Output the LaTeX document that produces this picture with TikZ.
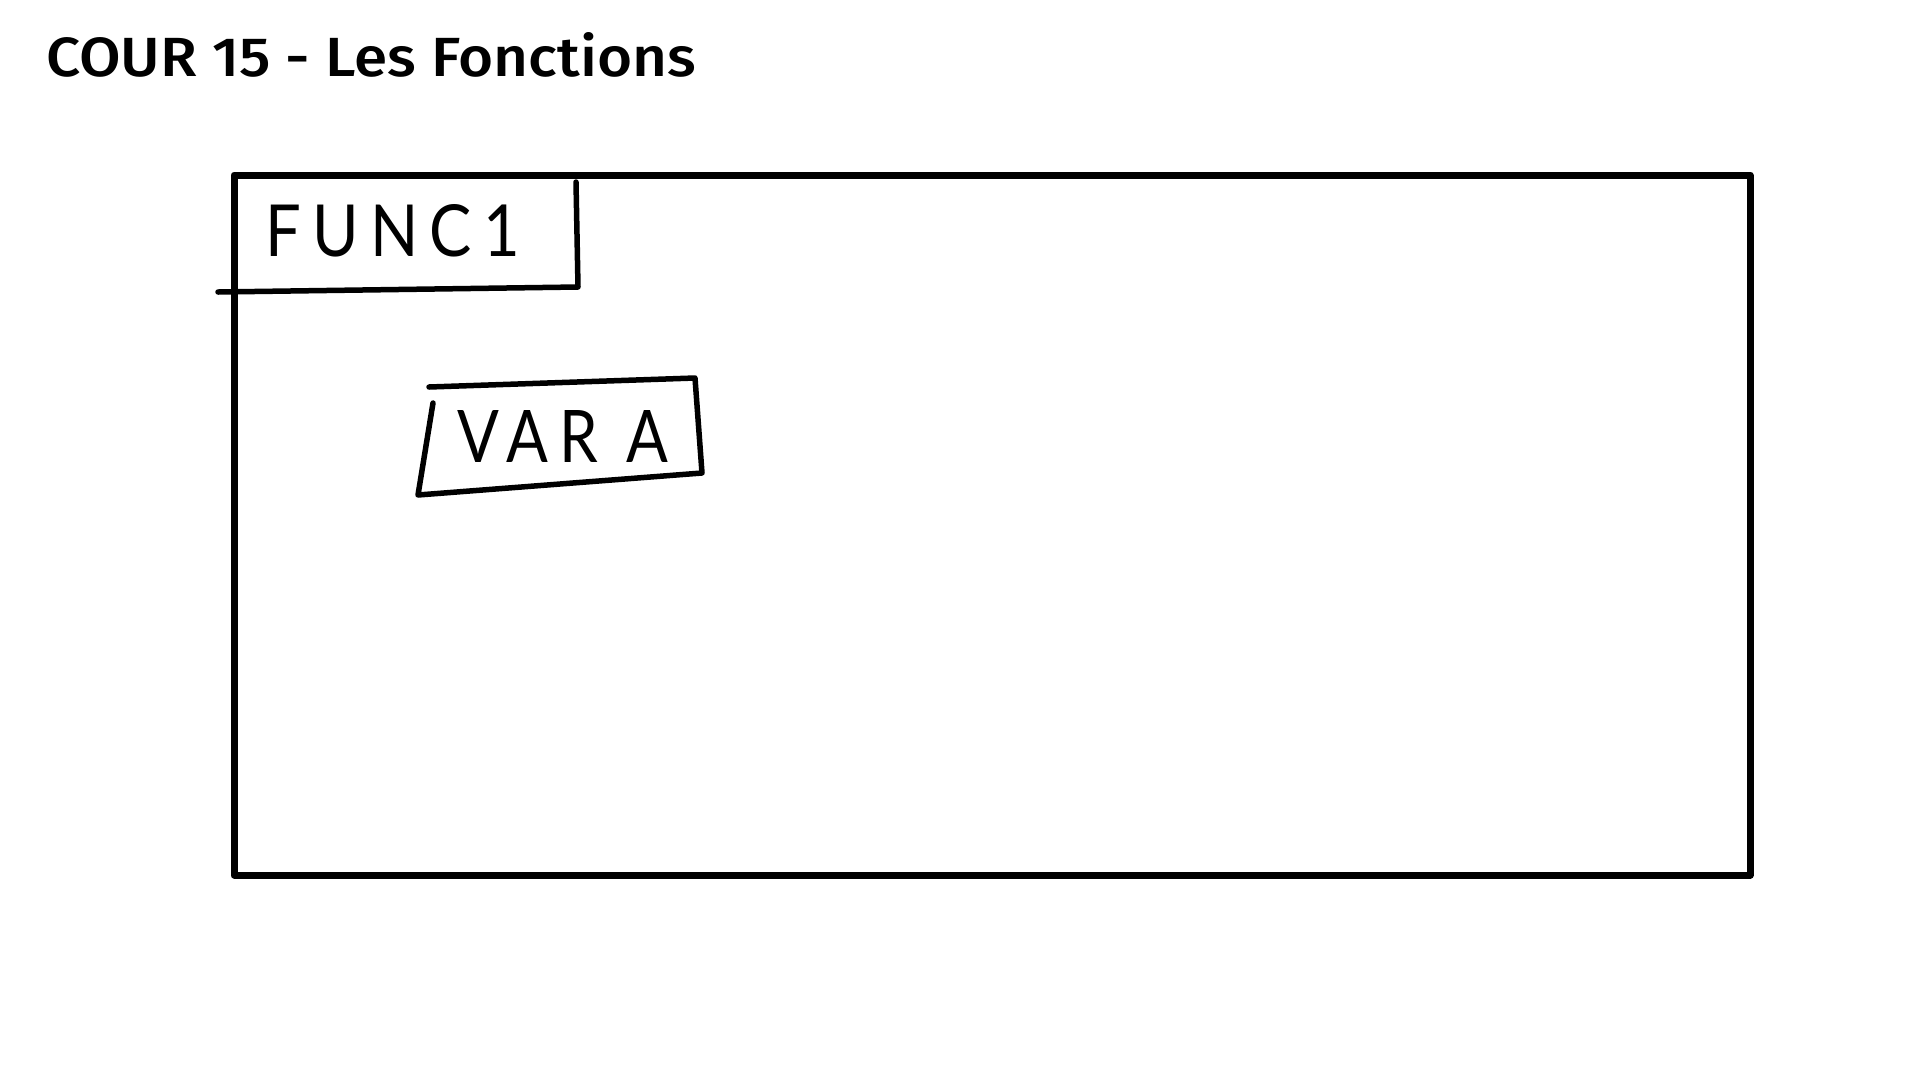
\documentclass[tikz,border=0pt]{standalone}
\usepackage{fontspec}
\usepackage{graphicx}
\setmainfont{Fira Sans}
\newfontfamily\titlefont{Fira Sans Medium}
\newfontfamily\handfont[LetterSpace=18]{Lato}
\tikzset{
  frame/.style={line width=7pt, line join=round, line cap=round},
  sketch/.style={line width=5.5pt, line join=round, line cap=round},
  label/.style={inner sep=0pt, outer sep=0pt}
}
\begin{document}
\begin{tikzpicture}[x=1pt, y=-1pt]
\useasboundingbox (0,0) rectangle (1920,1080);
\fill[white] (0,0) rectangle (1920,1080);
% title
\node[label, anchor=south west] (title) at (46,77)
  {\resizebox{650pt}{44pt}{\titlefont COUR 15 - Les Fonctions}};
% main frame
\draw[frame] (234,175) rectangle (1750,875);
% FUNC1 tab
\draw[sketch] (576,182) -- (578,287) -- (218,292);
\node[label, anchor=south west] (func) at (265,257)
  {\resizebox{255pt}{52pt}{\handfont FUNC1}};
% VAR A box
\draw[sketch] (429,387) -- (695,378) -- (702,473) -- (418,495) -- (433,403);
\node[label, anchor=south west] (vara) at (457,462)
  {\resizebox{211pt}{52pt}{\handfont VAR\hspace{0.45em}A}};
\end{tikzpicture}
\end{document}
